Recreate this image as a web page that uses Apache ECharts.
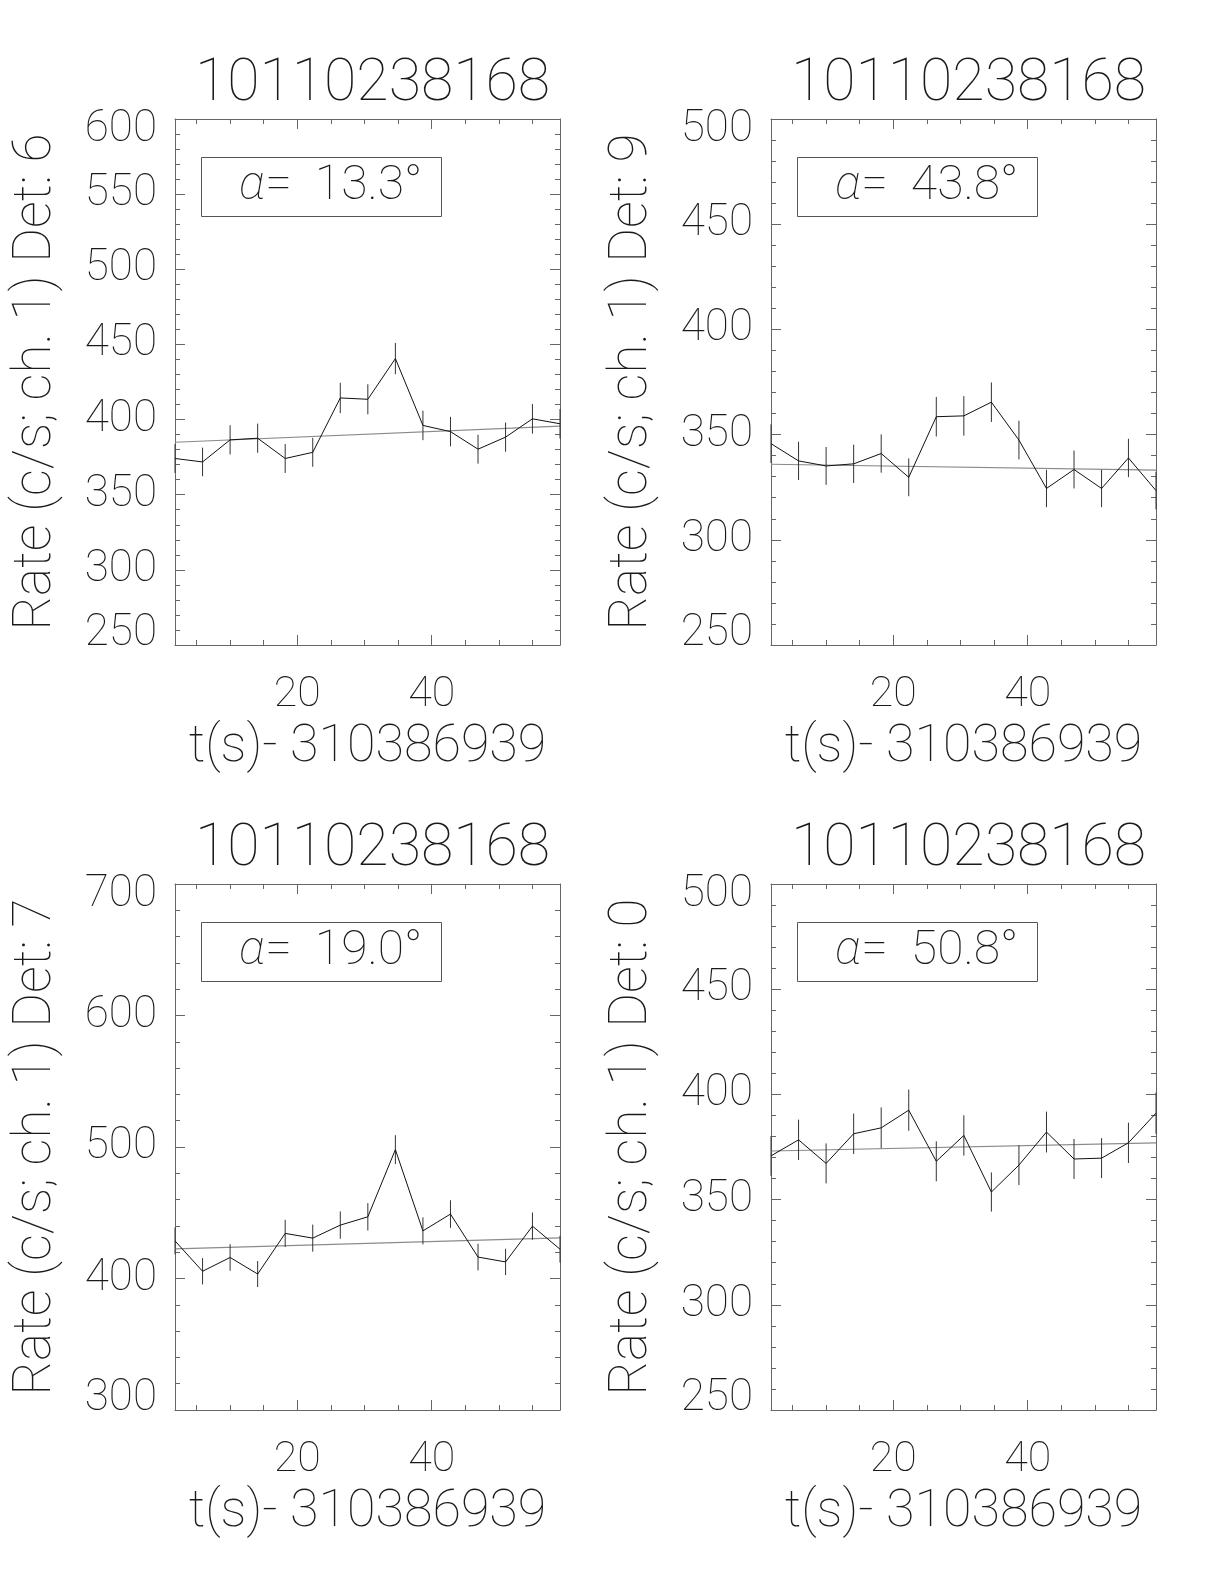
<!DOCTYPE html>
<html>
<head>
<meta charset="utf-8">
<script src="https://cdn.jsdelivr.net/npm/echarts@6/dist/echarts.min.js"></script>
<style>
html,body{margin:0;padding:0;background:#fff;}
#chart{width:1224px;height:1584px;}
</style>
</head>
<body>
<div id="chart"></div>
<script>
// ---- data ----
const titleText = '10110238168';
const xName = 't(s)- 310386939';
const t = [1.8, 5.9, 10.0, 14.1, 18.2, 22.3, 26.4, 30.5, 34.6, 38.7, 42.8, 46.9, 51.0, 55.0, 59.1];
const xMajor = [20, 40];
const xMinor = [5, 10, 15, 25, 30, 35, 45, 50, 55];

// Det 6
const rate6 = [374.1, 371.8, 386.5, 387.6, 374.1, 378.2, 414.4, 413.5, 440.6, 396.1, 392.0, 380.3, 388.3, 400.5, 397.2];
const err6  = [9.6, 9.5, 9.7, 9.7, 9.6, 9.6, 10.1, 10.0, 10.4, 9.8, 9.8, 9.6, 9.7, 9.9, 9.8];
const fit6  = [384.9, 395.6];
// Det 9
const rate9 = [345.7, 337.5, 335.1, 336.1, 341.0, 329.7, 358.5, 358.9, 365.4, 347.4, 324.4, 333.4, 324.4, 338.9, 323.4];
const err9  = [9.2, 9.1, 9.0, 9.1, 9.1, 9.0, 9.4, 9.4, 9.4, 9.2, 8.9, 9.0, 8.9, 9.1, 8.9];
const fit9  = [335.9, 333.1];
// Det 7
const rate7 = [428.6, 405.5, 416.0, 403.4, 434.3, 430.7, 440.6, 446.9, 498.0, 436.2, 449.0, 416.3, 412.6, 439.8, 422.3];
const err7  = [10.2, 10.0, 10.1, 9.9, 10.3, 10.3, 10.4, 10.4, 11.0, 10.3, 10.5, 10.1, 10.0, 10.4, 10.2];
const fit7  = [422.5, 430.9];
// Det 0
const rate0 = [370.8, 378.4, 367.2, 381.3, 384.1, 392.5, 368.2, 380.5, 353.6, 366.4, 382.1, 369.3, 369.7, 377.0, 391.1];
const err0  = [9.5, 9.6, 9.5, 9.6, 9.7, 9.8, 9.5, 9.6, 9.3, 9.5, 9.7, 9.5, 9.5, 9.6, 9.8];
const fit0  = [373.1, 377.0];

// y tick values
const yMajor6 = [250, 300, 350, 400, 450, 500, 550, 600];
const yMinor6 = [260,270,280,290,310,320,330,340,360,370,380,390,410,420,430,440,460,470,480,490,510,520,530,540,560,570,580,590];
const yMajor9 = [250, 300, 350, 400, 450, 500];
const yMinor9 = [260,270,280,290,310,320,330,340,360,370,380,390,410,420,430,440,460,470,480,490];
const yMajor7 = [300, 400, 500, 600, 700];
const yMinor7 = [320,340,360,380,420,440,460,480,520,540,560,580,620,640,660,680];

const panels = [
  {det: '6', alpha: '13.3', rate: rate6, err: err6, fit: fit6, ymin: 250, ymax: 600, yMajor: yMajor6, yMinor: yMinor6},
  {det: '9', alpha: '43.8', rate: rate9, err: err9, fit: fit9, ymin: 250, ymax: 500, yMajor: yMajor9, yMinor: yMinor9},
  {det: '7', alpha: '19.0', rate: rate7, err: err7, fit: fit7, ymin: 300, ymax: 700, yMajor: yMajor7, yMinor: yMinor7},
  {det: '0', alpha: '50.8', rate: rate0, err: err0, fit: fit0, ymin: 250, ymax: 500, yMajor: yMajor9, yMinor: yMinor9}
];

// ---- layout ----
const FONT = 'Roboto, "Liberation Sans", sans-serif';
const FW = 100;
const TXT = '#1a1a1a';
const FRAME = '#666';
const gridPos = [
  {left: 175, top: 119}, {left: 771, top: 119},
  {left: 175, top: 884}, {left: 771, top: 884}
];
const GW = 385, GH = 526;

const option = {
  backgroundColor: '#fff',
  animation: false,
  grid: [], xAxis: [], yAxis: [], series: [], title: []
};

panels.forEach((p, k) => {
  const g = gridPos[k];
  option.grid.push({left: g.left, top: g.top, width: GW, height: GH, containLabel: false});
  const xmin = t[0], xmax = t[t.length - 1];
  const xb = option.xAxis.length;
  const baseX = {type: 'value', gridIndex: k, min: xmin, max: xmax, splitLine: {show: false}};
  option.xAxis.push(Object.assign({}, baseX, {
    position: 'bottom',
    axisLine: {show: true, lineStyle: {color: FRAME, width: 1}},
    axisTick: {show: true, inside: true, length: 10, customValues: xMajor, lineStyle: {color: FRAME}},
    axisLabel: {show: true, customValues: xMajor, margin: 29, color: TXT,
      fontFamily: FONT, fontWeight: FW, fontSize: 43},
    name: xName, nameLocation: 'middle', nameGap: 77,
    nameTextStyle: {color: TXT, fontFamily: FONT, fontWeight: FW, fontSize: 52, lineHeight: 52}
  }));
  option.xAxis.push(Object.assign({}, baseX, {
    position: 'bottom', axisLine: {show: false},
    axisTick: {show: true, inside: true, length: 5, customValues: xMinor, lineStyle: {color: FRAME}},
    axisLabel: {show: false}
  }));
  option.xAxis.push(Object.assign({}, baseX, {
    position: 'top',
    axisLine: {show: true, lineStyle: {color: FRAME, width: 1}},
    axisTick: {show: true, inside: true, length: 10, customValues: xMajor, lineStyle: {color: FRAME}},
    axisLabel: {show: false}
  }));
  option.xAxis.push(Object.assign({}, baseX, {
    position: 'top', axisLine: {show: false},
    axisTick: {show: true, inside: true, length: 5, customValues: xMinor, lineStyle: {color: FRAME}},
    axisLabel: {show: false}
  }));

  const yb = option.yAxis.length;
  const baseY = {type: 'value', gridIndex: k, min: p.ymin, max: p.ymax, splitLine: {show: false}};
  option.yAxis.push(Object.assign({}, baseY, {
    position: 'left',
    axisLine: {show: true, lineStyle: {color: FRAME, width: 1}},
    axisTick: {show: true, inside: true, length: 10, customValues: p.yMajor, lineStyle: {color: FRAME}},
    axisLabel: {show: true, customValues: p.yMajor, margin: 18, color: TXT,
      fontFamily: FONT, fontWeight: FW, fontSize: 44, lineHeight: 22,
      verticalAlignMinLabel: 'bottom', verticalAlignMaxLabel: 'top'},
    name: 'Rate (c/s; ch. 1) Det: ' + p.det, nameLocation: 'middle', nameGap: 112,
    nameTextStyle: {color: TXT, fontFamily: FONT, fontWeight: FW, fontSize: 53, lineHeight: 53}
  }));
  option.yAxis.push(Object.assign({}, baseY, {
    position: 'left', axisLine: {show: false},
    axisTick: {show: true, inside: true, length: 5, customValues: p.yMinor, lineStyle: {color: FRAME}},
    axisLabel: {show: false}
  }));
  option.yAxis.push(Object.assign({}, baseY, {
    position: 'right',
    axisLine: {show: true, lineStyle: {color: FRAME, width: 1}},
    axisTick: {show: true, inside: true, length: 10, customValues: p.yMajor, lineStyle: {color: FRAME}},
    axisLabel: {show: false}
  }));
  option.yAxis.push(Object.assign({}, baseY, {
    position: 'right', axisLine: {show: false},
    axisTick: {show: true, inside: true, length: 5, customValues: p.yMinor, lineStyle: {color: FRAME}},
    axisLabel: {show: false}
  }));

  // fit line
  option.series.push({
    type: 'line', xAxisIndex: xb, yAxisIndex: yb, symbol: 'none', silent: true,
    data: [[xmin, p.fit[0]], [xmax, p.fit[1]]],
    lineStyle: {color: '#8a8a8a', width: 1.2}, z: 2
  });
  // error bars
  option.series.push({
    type: 'custom', xAxisIndex: xb, yAxisIndex: yb, silent: true,
    data: t.map((x, i) => [x, p.rate[i], p.err[i]]),
    encode: {x: 0, y: 1},
    renderItem: function (params, api) {
      const x = api.value(0), y = api.value(1), e = api.value(2);
      const a = api.coord([x, y - e]), b = api.coord([x, y + e]);
      return {type: 'line', shape: {x1: a[0], y1: a[1], x2: b[0], y2: b[1]},
        style: {stroke: '#333', lineWidth: 1}};
    }, z: 3
  });
  // rate line
  option.series.push({
    type: 'line', xAxisIndex: xb, yAxisIndex: yb, symbol: 'none', silent: true,
    data: t.map((x, i) => [x, p.rate[i]]),
    lineStyle: {color: '#111', width: 1}, z: 4
  });

  // panel title
  option.title.push({
    text: titleText, left: g.left + GW / 2, top: g.top - 68, textAlign: 'center',
    textStyle: {color: TXT, fontFamily: FONT, fontWeight: FW, fontSize: 59, lineHeight: 59}
  });
  // alpha box
  option.title.push({
    text: '{a|α}=  ' + p.alpha + '°',
    left: g.left + 26, top: g.top + 38,
    borderColor: '#555', borderWidth: 1,
    padding: [0, 0, 0, 38],
    textStyle: {color: TXT, fontFamily: FONT, fontWeight: FW, fontSize: 48,
      width: 203, height: 60, lineHeight: 60,
      rich: {a: {fontStyle: 'italic', fontFamily: FONT, fontWeight: FW, fontSize: 48, color: TXT, lineHeight: 60}}}
  });
});

const chart = echarts.init(document.getElementById('chart'), null, {renderer: 'canvas'});
chart.setOption(option);
</script>
</body>
</html>
